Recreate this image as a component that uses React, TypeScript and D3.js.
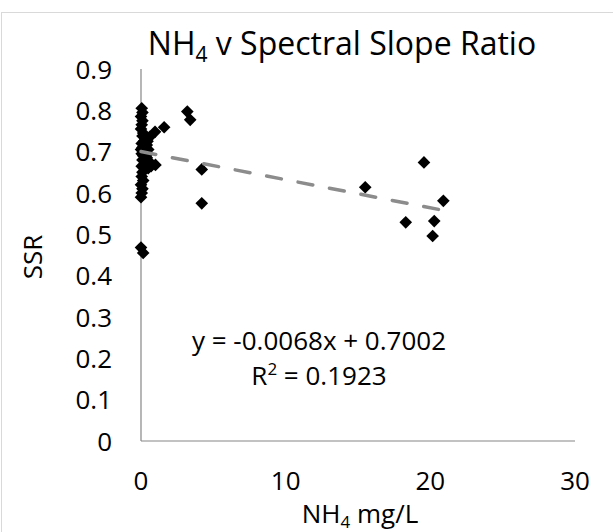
import React from "react";
import * as d3 from "d3";

const nh4: number[] = [
  0.05, 0.1, 0.0, 0.1, 0.05, 0.0, 0.15, 0.1, 0.3, 0.62, 0.97, 1.6,
  0.2, 0.05, 0.4, 0.1, 0.0, 0.25, 0.05, 0.15, 0.4, 0.1, 0.6, 1.0,
  0.3, 0.05, 0.2, 0.1, 0.05, 0.15, 0.0, 0.1, 0.05, 0.0,
  0.45, 0.5, 0.35, 0.5, 0.7,
  3.2, 3.4, 4.2, 4.2, 0.0, 0.15,
  15.5, 19.56, 20.9, 18.3, 20.27, 20.16,
];
const ssr: number[] = [
  0.805, 0.795, 0.785, 0.775, 0.765, 0.755, 0.745, 0.738, 0.733, 0.736, 0.748, 0.759,
  0.725, 0.72, 0.716, 0.71, 0.705, 0.7, 0.695, 0.69, 0.685, 0.68, 0.675, 0.668,
  0.67, 0.665, 0.66, 0.65, 0.64, 0.63, 0.62, 0.61, 0.6, 0.59,
  0.725, 0.705, 0.69, 0.66, 0.665,
  0.797, 0.777, 0.657, 0.575, 0.468, 0.455,
  0.614, 0.674, 0.581, 0.529, 0.532, 0.496,
];
const xTicks: number[] = [0, 10, 20, 30];
const yTicks: number[] = [0, 0.1, 0.2, 0.3, 0.4, 0.5, 0.6, 0.7, 0.8, 0.9];
const slope = -0.0068;
const intercept = 0.7002;
const rSquared = "0.1923";

const FONT = "'Open Sans', 'Noto Sans', sans-serif";

export default function App() {
  const x = d3.scaleLinear().domain([0, 30]).range([141, 575]);
  const y = d3.scaleLinear().domain([0, 0.9]).range([441, 69]);
  const pts = nh4.map((v, i) => ({ x: v, y: ssr[i] }));
  const maxX = d3.max(nh4) as number;
  const trend = d3
    .line<number>()
    .x((d) => x(d))
    .y((d) => y(slope * d + intercept))([0, maxX]);
  const diamond = d3.symbol(d3.symbolSquare, 80)() as string;

  return (
    <svg
      width={613}
      height={532}
      style={{ position: "absolute", left: 0, top: 0, background: "#fff" }}
      fontFamily={FONT}
    >
      <rect x={1.5} y={12.5} width={620} height={530} fill="#fff" stroke="#d9d9d9" strokeWidth={1} />
      <text x={342} y={55} textAnchor="middle" fontSize={32} fill="#000">
        NH<tspan fontSize={21} dy={7}>4</tspan>
        <tspan dy={-7}> v Spectral Slope Ratio</tspan>
      </text>
      {/* axes */}
      <line x1={x(0)} x2={x(0)} y1={y(0.9)} y2={y(0)} stroke="#868686" strokeWidth={1.2} />
      <line x1={x(0)} x2={x(30)} y1={y(0)} y2={y(0)} stroke="#868686" strokeWidth={1.2} />
      {yTicks.map((t) => (
        <text key={"y" + t} x={112} y={y(t) + 9.5} textAnchor="end" fontSize={26} fill="#000">
          {t === 0 ? "0" : d3.format(".1f")(t)}
        </text>
      ))}
      {xTicks.map((t) => (
        <text key={"x" + t} x={x(t)} y={490} textAnchor="middle" fontSize={26} fill="#000">
          {t}
        </text>
      ))}
      <text transform="translate(42,257) rotate(-90)" textAnchor="middle" fontSize={26} fill="#000">
        SSR
      </text>
      <text x={360} y={523} textAnchor="middle" fontSize={26} fill="#000">
        NH<tspan fontSize={17} dy={5}>4</tspan>
        <tspan dy={-5}> mg/L</tspan>
      </text>
      {/* points */}
      {pts.map((p, i) => (
        <path key={i} d={diamond} transform={`translate(${x(p.x)},${y(p.y)}) rotate(45)`} fill="#000" />
      ))}
      {/* trendline */}
      <path
        d={trend as string}
        fill="none"
        stroke="#8c8c8c"
        strokeWidth={3.5}
        strokeDasharray="15,17"
        strokeLinecap="round"
      />
      <text x={319} y={350} textAnchor="middle" fontSize={26} fill="#000">
        y = -0.0068x + 0.7002
      </text>
      <text x={319} y={385} textAnchor="middle" fontSize={26} fill="#000">
        R<tspan fontSize={17} dy={-10}>2</tspan>
        <tspan dy={10}> = {rSquared}</tspan>
      </text>
    </svg>
  );
}
